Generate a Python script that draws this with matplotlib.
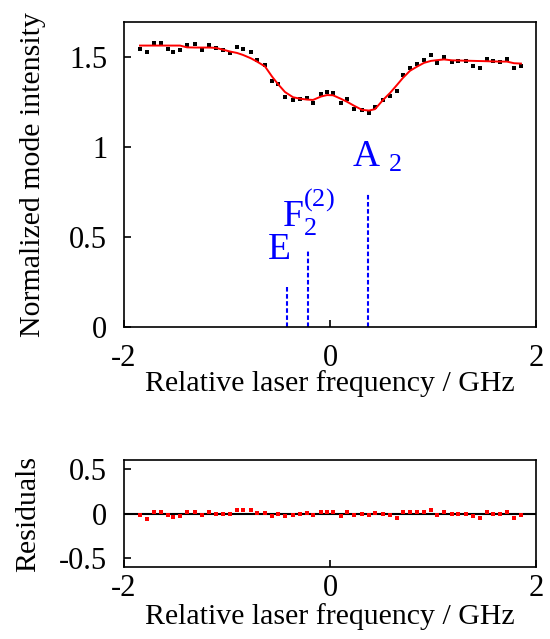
import numpy as np
import matplotlib
matplotlib.use("Agg")
import matplotlib.pyplot as plt

plt.rcParams['font.family'] = ['Liberation Serif', 'DejaVu Serif']
plt.rcParams['mathtext.fontset'] = 'custom'
plt.rcParams['mathtext.rm'] = 'Liberation Serif'
plt.rcParams['mathtext.it'] = 'Liberation Serif:italic'

# relative laser frequency (GHz) of each measured point
freq = [-1.845, -1.777, -1.709, -1.641, -1.573, -1.524, -1.456, -1.388, -1.311, -1.243,
        -1.175, -1.107, -1.039, -0.971, -0.903, -0.845, -0.767, -0.709, -0.631, -0.563,
        -0.505, -0.437, -0.359, -0.291, -0.223, -0.165, -0.087, -0.029, 0.029, 0.107,
        0.165, 0.233, 0.311, 0.379, 0.437, 0.515, 0.583, 0.650, 0.709, 0.777,
        0.845, 0.913, 0.981, 1.039, 1.107, 1.184, 1.243, 1.320, 1.388, 1.456,
        1.524, 1.583, 1.650, 1.718, 1.786, 1.854]

# measured normalized mode intensity
intensity = [1.543, 1.525, 1.578, 1.578, 1.543, 1.530, 1.538, 1.568, 1.572, 1.537,
             1.567, 1.552, 1.540, 1.522, 1.557, 1.546, 1.527, 1.484, 1.457, 1.365,
             1.349, 1.280, 1.260, 1.268, 1.273, 1.245, 1.295, 1.303, 1.302, 1.245,
             1.266, 1.212, 1.206, 1.188, 1.220, 1.261, 1.285, 1.310, 1.399, 1.438,
             1.461, 1.482, 1.510, 1.466, 1.501, 1.471, 1.480, 1.479, 1.452, 1.440,
             1.491, 1.475, 1.474, 1.489, 1.440, 1.450]

# fitted curve
fit = [1.563, 1.563, 1.563, 1.563, 1.563, 1.563, 1.563, 1.553, 1.552, 1.552,
       1.552, 1.550, 1.540, 1.530, 1.522, 1.511, 1.492, 1.474, 1.447, 1.391,
       1.349, 1.305, 1.276, 1.268, 1.263, 1.261, 1.280, 1.288, 1.287, 1.267,
       1.251, 1.229, 1.206, 1.202, 1.210, 1.261, 1.300, 1.344, 1.384, 1.423,
       1.446, 1.467, 1.478, 1.482, 1.486, 1.481, 1.480, 1.479, 1.478, 1.477,
       1.476, 1.475, 1.474, 1.474, 1.465, 1.463]

# residuals (measured - fit)
resid = [-0.02, -0.06, 0.015, 0.015, -0.02, -0.04, -0.03, 0.015, 0.02, -0.02,
         0.015, 0.0, 0.0, -0.01, 0.035, 0.035, 0.035, 0.01, 0.01, -0.03,
         0.0, -0.03, -0.02, 0.0, 0.01, -0.02, 0.015, 0.015, 0.015, -0.03,
         0.015, -0.02, 0.0, -0.02, 0.01, 0.0, -0.02, -0.05, 0.015, 0.015,
         0.015, 0.015, 0.04, -0.02, 0.015, -0.01, 0.0, 0.0, -0.03, -0.05,
         0.015, 0.0, 0.0, 0.015, -0.05, -0.02]

# transition positions (GHz) and stick heights
line_pos = [-0.417, -0.214, 0.369]
line_height = [0.22, 0.43, 0.74]

fig = plt.figure(figsize=(5.5, 6.39), dpi=100)
ax = fig.add_axes([0.2255, 0.4883, 0.749, 0.4773])
ax2 = fig.add_axes([0.2255, 0.1127, 0.749, 0.1674])

ax.plot(freq, intensity, 's', color='black', ms=2.2, mew=0)
ax.plot(freq, fit, '-', color='red', lw=1.4)
for p, h in zip(line_pos, line_height):
    ax.plot([p, p], [0, h], color='blue', lw=1.5, dashes=(2.2, 1.2))

ax.text(-0.49, 0.43, "E", color='blue', fontsize=27, ha='center', va='center')
ax.text(-0.465, 0.555, r"F$\mathregular{_2^{(2)}}$", color='blue', fontsize=27,
        ha='left', va='baseline')
ax.text(0.215, 0.89, r"A $\mathregular{_2}$", color='blue', fontsize=27,
        ha='left', va='baseline')

ax.set_xlim(-2, 2)
ax.set_ylim(0, 1.694)
ax.set_xticks([-2, 0, 2])
ax.set_yticks([0, 0.5, 1, 1.5])
ax.set_yticklabels(['0', '0.5', '1', '1.5'])
ax.set_xticklabels(['-2', '0', '2'])
ax.set_xlabel("Relative laser frequency / GHz", fontsize=21.5, labelpad=-2)
ax.set_ylabel("Normalized mode intensity", fontsize=21.5, labelpad=17)

ax2.axhline(0, color='black', lw=1.5)
ax2.plot(freq, resid, 's', color='red', ms=2.4, mew=0)
ax2.set_xlim(-2, 2)
ax2.set_ylim(-0.6, 0.6)
ax2.set_xticks([-2, 0, 2])
ax2.set_xticklabels(['-2', '0', '2'])
ax2.set_yticks([-0.5, 0, 0.5])
ax2.set_yticklabels(['-0.5', '0', '0.5'])
ax2.set_xlabel("Relative laser frequency / GHz", fontsize=21.5, labelpad=0)
ax2.set_ylabel("Residuals", fontsize=21.5, labelpad=13)

for a in (ax, ax2):
    a.tick_params(direction='in', length=5, width=1.2, labelsize=22,
                  top=False, right=False, pad=12)
    for s in a.spines.values():
        s.set_linewidth(1.2)
ax2.tick_params(axis='x', pad=5)

fig.savefig("out.png", dpi=100)
